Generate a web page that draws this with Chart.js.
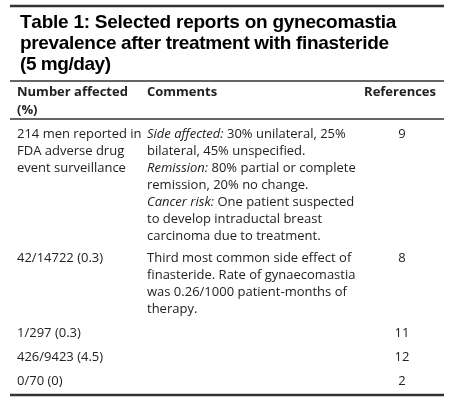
<!DOCTYPE html>
<html>
<head>
<meta charset="utf-8">
<script src="https://cdn.jsdelivr.net/npm/chart.js@4.4.1/dist/chart.umd.min.js"></script>
<style>
  body { margin: 0; background: #fff; }
  #wrap { width: 466px; height: 407px; }
</style>
</head>
<body>
<div id="wrap"><canvas id="tableChart" width="466" height="407"></canvas></div>
<script>
// ---- table content ----
const titleLines = [
    'Table 1: Selected reports on gynecomastia',
    'prevalence after treatment with finasteride',
    '(5 mg/day)'
];
const titleWidths = [375, 369, 91];
const headers = [['Number affected', '(%)'], ['Comments'], ['References']];

// each line of a comment: list of [text, italic]
const numberAffected = [
    ['214 men reported in', 'FDA adverse drug', 'event surveillance'],
    ['42/14722 (0.3)'],
    ['1/297 (0.3)'],
    ['426/9423 (4.5)'],
    ['0/70 (0)']
];
const comments = [
    [
        [['Side affected:', true], [' 30% unilateral, 25%', false]],
        [['bilateral, 45% unspecified.', false]],
        [['Remission:', true], [' 80% partial or complete', false]],
        [['remission, 20% no change.', false]],
        [['Cancer risk:', true], [' One patient suspected', false]],
        [['to develop intraductal breast', false]],
        [['carcinoma due to treatment.', false]]
    ],
    [
        [['Third most common side effect of', false]],
        [['finasteride. Rate of gynaecomastia', false]],
        [['was 0.26/1000 patient-months of', false]],
        [['therapy.', false]]
    ],
    [], [], []
];
const references = ['9', '8', '11', '12', '2'];
const rowStarts = [134, 258, 333, 357, 381];   // y of first text line in each row

// ---- layout (in scale units = page pixels) ----
const colX = [17, 147, 402];
const lineGap = 17;
const rules = [[6, 2.5], [81, 1.5], [119, 1.5], [395, 2.5]];

const tablePlugin = {
    id: 'tableText',
    afterDraw(chart) {
        const ctx = chart.ctx, sx = chart.scales.x, sy = chart.scales.y;
        const X = v => sx.getPixelForValue(v), Y = v => sy.getPixelForValue(v);
        ctx.save();
        ctx.textBaseline = 'middle';

        // rules
        rules.forEach(([y, w]) => {
            ctx.strokeStyle = '#333';
            ctx.lineWidth = w;
            ctx.beginPath();
            ctx.moveTo(X(10), Y(y));
            ctx.lineTo(X(444), Y(y));
            ctx.stroke();
        });

        // title - stretched to the widths seen in the reference
        ctx.fillStyle = '#000';
        ctx.font = 'bold 19px "Liberation Sans", Arial, sans-serif';
        ctx.textAlign = 'left';
        titleLines.forEach((t, i) => {
            const natural = ctx.measureText(t).width;
            const extra = (titleWidths[i] - natural) / Math.max(1, t.length - 1);
            let x = X(20);
            for (const ch of t) {
                ctx.fillText(ch, x, Y(23 + i * 21));
                x += ctx.measureText(ch).width + extra;
            }
        });

        // headers
        ctx.fillStyle = '#222';
        ctx.font = 'bold 13px "Open Sans", "Noto Sans", sans-serif';
        headers[0].forEach((t, i) => ctx.fillText(t, X(colX[0]), Y(92 + i * 18)));
        ctx.fillText(headers[1][0], X(colX[1]), Y(92));
        ctx.textAlign = 'right';
        ctx.fillText(headers[2][0], X(436), Y(92));

        // body
        const normal = '13px "Open Sans", "Noto Sans", sans-serif';
        const italic = 'italic 13px "Open Sans", "Noto Sans", sans-serif';
        rowStarts.forEach((y0, r) => {
            ctx.textAlign = 'left';
            ctx.font = normal;
            numberAffected[r].forEach((t, i) => ctx.fillText(t, X(colX[0]), Y(y0 + i * lineGap)));
            comments[r].forEach((segs, i) => {
                let x = X(colX[1]);
                segs.forEach(([t, it]) => {
                    ctx.font = it ? italic : normal;
                    ctx.fillText(t, x, Y(y0 + i * lineGap));
                    x += ctx.measureText(t).width;
                });
            });
            ctx.font = normal;
            ctx.textAlign = 'center';
            ctx.fillText(references[r], X(colX[2]), Y(y0));
        });
        ctx.restore();
    }
};

new Chart(document.getElementById('tableChart'), {
    type: 'scatter',
    data: { datasets: [{ data: [], pointRadius: 0 }] },
    options: {
        responsive: false,
        animation: false,
        layout: { padding: 0 },
        plugins: { legend: { display: false }, tooltip: { enabled: false } },
        scales: {
            x: { type: 'linear', min: 0, max: 466, display: false },
            y: { type: 'linear', min: 0, max: 407, reverse: true, display: false }
        }
    },
    plugins: [tablePlugin]
});
</script>
</body>
</html>
